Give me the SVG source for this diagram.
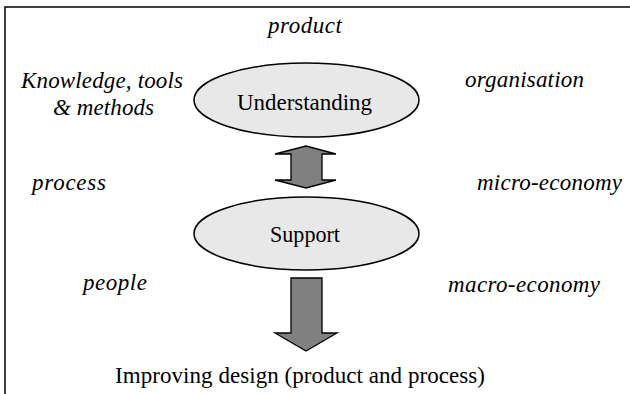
<svg xmlns="http://www.w3.org/2000/svg" width="630" height="394" viewBox="0 0 630 394">
  <style>
    .frame { fill: none; stroke: #000; stroke-width: 1.5; }
    .node { fill: #e8e8e8; stroke: #000; stroke-width: 1.5; }
    .arrow { fill: #808080; stroke: #000; stroke-width: 1.3; stroke-linejoin: miter; }
    .t { font-family: 'Liberation Serif', 'Times New Roman', serif; font-size: 23px; fill: #000; }
    .i { font-style: italic; }
  </style>
  <rect width="630" height="394" fill="#fff"/>
  <path class="frame" d="M5,400 L5,7 L630,7"/>

  <g id="connectors">
    <path id="double-arrow" class="arrow" d="M306,146 L336,154 L322,154 L322,180 L336,180 L306,188 L275,180 L291,180 L291,154 L275,154 Z"/>
    <path id="down-arrow" class="arrow" d="M291,278 L322,278 L322,333 L337,333 L306,351 L275,333 L291,333 Z"/>
  </g>

  <g id="understanding">
    <ellipse class="node" cx="306.5" cy="100" rx="112.5" ry="37"/>
    <text class="t" x="237" y="110" textLength="135" lengthAdjust="spacingAndGlyphs">Understanding</text>
  </g>
  <g id="support">
    <ellipse class="node" cx="306.5" cy="233.5" rx="112.5" ry="36.5"/>
    <text class="t" x="270" y="242" textLength="70" lengthAdjust="spacingAndGlyphs">Support</text>
  </g>

  <g id="labels">
    <text class="t i" x="268" y="33" textLength="74">product</text>
    <text class="t i" x="21" y="88" textLength="162">Knowledge, tools</text>
    <text class="t i" x="53" y="115" textLength="101">&amp; methods</text>
    <text class="t i" x="465" y="87" textLength="119">organisation</text>
    <text class="t i" x="32" y="190" textLength="74">process</text>
    <text class="t i" x="477" y="190" textLength="145">micro-economy</text>
    <text class="t i" x="83" y="290" textLength="64">people</text>
    <text class="t i" x="448" y="292" textLength="152">macro-economy</text>
  </g>
  <g id="result">
    <text class="t" x="115" y="383" textLength="370">Improving design (product and process)</text>
  </g>
</svg>
